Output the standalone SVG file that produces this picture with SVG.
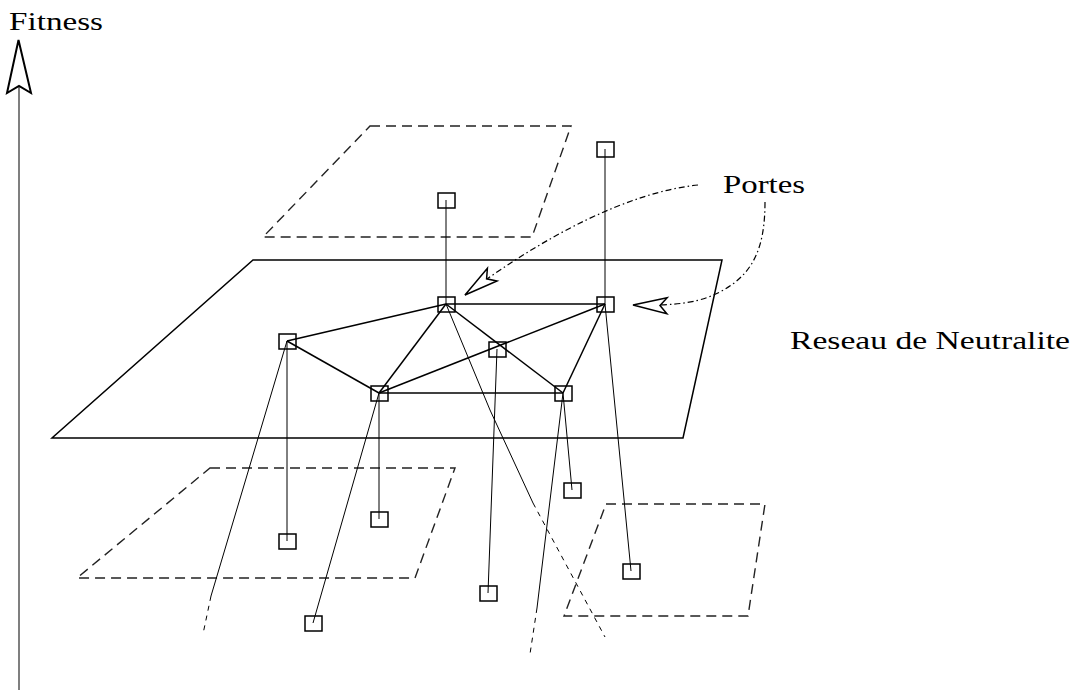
<svg xmlns="http://www.w3.org/2000/svg" width="1071" height="692" viewBox="0 0 1071 692">
<style>
.txt{font-family:"Liberation Serif","Times New Roman",serif;font-size:26px;fill:#000}
.plane{fill:none;stroke:#000;stroke-width:1.5}
.dplane{fill:none;stroke:#222;stroke-width:1.4;stroke-dasharray:10 6}
.edge{fill:none;stroke:#000;stroke-width:1.5}
.thin{fill:none;stroke:#000;stroke-width:1}
.tail{fill:none;stroke:#000;stroke-width:1;stroke-dasharray:5 5}
.dd{fill:none;stroke:#000;stroke-width:1.2;stroke-dasharray:6 3 1.5 3}
.node{fill:none;stroke:#000;stroke-width:1.5}
</style>
<defs>
<marker id="open" markerUnits="userSpaceOnUse" markerWidth="40" markerHeight="20" viewBox="-34 -10 40 20" refX="0" refY="0" orient="auto" overflow="visible">
<path d="M0,0 L-34,-8 L-27,0 L-34,8 Z" fill="#fff" stroke="#000" stroke-width="1.5" stroke-linejoin="miter"/>
</marker>
</defs>

<g id="axis">
<line x1="19" y1="690" x2="19" y2="86" stroke="#555" stroke-width="1.5"/>
<polygon points="18.5,40 31,93 19,86 7,93" fill="#fff" stroke="#000" stroke-width="2"/>
<text class="txt" x="9" y="30" textLength="94" lengthAdjust="spacingAndGlyphs">Fitness</text>
</g>

<g id="planes">
<polygon id="plane-main" class="plane" points="253,260 722,260 683,438 52,438"/>
<polygon id="plane-top" class="dplane" points="370,126 571,126 532,237 263,237"/>
<polygon id="plane-bl" class="dplane" points="210,468 455,468 415,578 77,578"/>
<polygon id="plane-br" class="dplane" points="606,504 765,504 748,616 564,616"/>
</g>

<g id="connectors">
<line class="edge" x1="446" y1="304" x2="605" y2="304"/>
<line class="edge" x1="446" y1="304" x2="287" y2="341"/>
<line class="edge" x1="446" y1="304" x2="379" y2="393"/>
<line class="edge" x1="446" y1="304" x2="563" y2="393"/>
<line class="edge" x1="287" y1="341" x2="379" y2="393"/>
<line class="edge" x1="379" y1="393" x2="563" y2="393"/>
<line class="edge" x1="379" y1="393" x2="605" y2="304"/>
<line class="edge" x1="605" y1="304" x2="563" y2="393"/>

<line class="thin" x1="446" y1="200" x2="446" y2="304"/>
<line class="thin" x1="605" y1="149" x2="605" y2="304"/>
<line class="thin" x1="287" y1="341" x2="287" y2="541"/>
<line class="thin" x1="379" y1="393" x2="379" y2="519"/>
<line class="thin" x1="497" y1="349" x2="488" y2="593"/>
<line class="thin" x1="563" y1="393" x2="572" y2="490"/>
<line class="thin" x1="605" y1="304" x2="631" y2="571"/>
<line class="thin" x1="379" y1="393" x2="313" y2="623"/>

<line class="thin" x1="287" y1="341" x2="211" y2="596"/>
<line class="tail" x1="211" y1="596" x2="203" y2="634"/>
<polyline class="thin" points="446,304 490,410 533,503"/>
<line class="tail" x1="533" y1="503" x2="605" y2="637"/>
<line class="thin" x1="563" y1="393" x2="537" y2="608"/>
<line class="tail" x1="537" y1="608" x2="530" y2="654"/>

<path class="dd" d="M698,185 C630,192 545,235 465,295" marker-end="url(#open)"/>
<path class="dd" d="M765,202 C765,250 752,275 720,292 C700,302 680,306 633,305" marker-end="url(#open)"/>
</g>

<g id="n-A"><rect class="node" x="438" y="297" width="17" height="15"/></g>
<g id="n-B"><rect class="node" x="597" y="297" width="17" height="15"/></g>
<g id="n-C"><rect class="node" x="279" y="334" width="17" height="15"/></g>
<g id="n-D"><rect class="node" x="489" y="342" width="17" height="15"/></g>
<g id="n-E"><rect class="node" x="371" y="386" width="17" height="15"/></g>
<g id="n-F"><rect class="node" x="555" y="386" width="17" height="15"/></g>
<g id="n-G"><rect class="node" x="438" y="193" width="17" height="15"/></g>
<g id="n-H"><rect class="node" x="597" y="142" width="17" height="15"/></g>
<g id="n-I"><rect class="node" x="279" y="534" width="17" height="15"/></g>
<g id="n-J"><rect class="node" x="371" y="512" width="17" height="15"/></g>
<g id="n-K"><rect class="node" x="305" y="616" width="17" height="15"/></g>
<g id="n-L"><rect class="node" x="480" y="586" width="17" height="15"/></g>
<g id="n-M"><rect class="node" x="564" y="483" width="17" height="15"/></g>
<g id="n-N"><rect class="node" x="623" y="564" width="17" height="15"/></g>

<g id="labels">
<text class="txt" x="723" y="193" textLength="82" lengthAdjust="spacingAndGlyphs">Portes</text>
<text class="txt" x="790" y="349" textLength="280" lengthAdjust="spacingAndGlyphs">Reseau de Neutralite</text>
</g>
</svg>
